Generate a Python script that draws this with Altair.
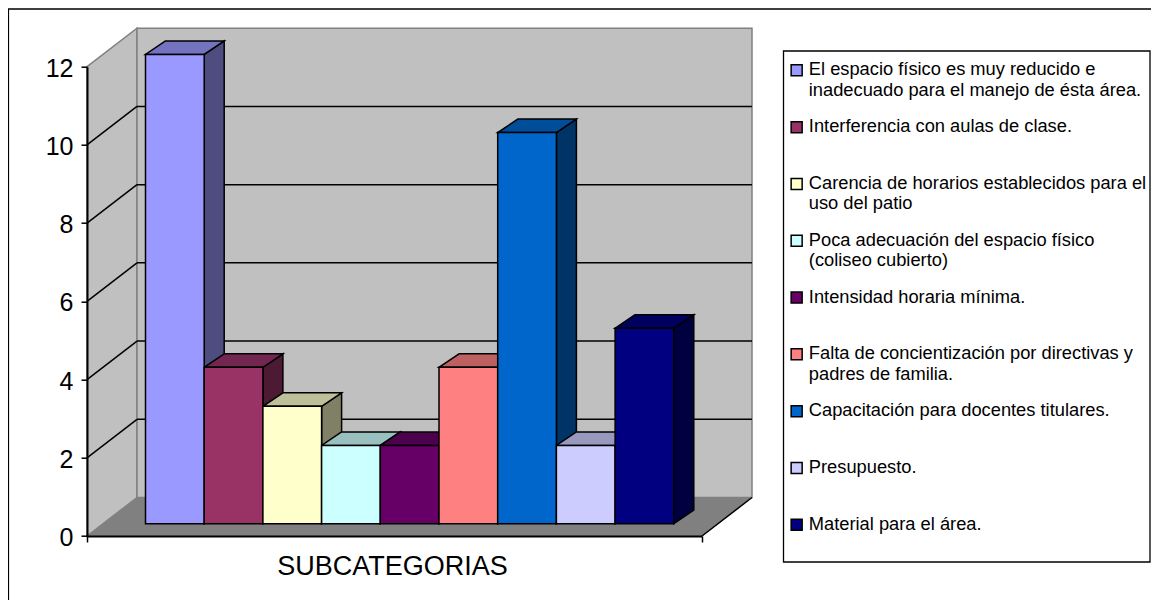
import altair as alt
import pandas as pd

cats = [
    "El espacio físico es muy reducido e|inadecuado para el manejo de ésta área.",
    "Interferencia con aulas de clase.",
    "Carencia de horarios establecidos para el|uso del patio",
    "Poca adecuación del espacio físico|(coliseo cubierto)",
    "Intensidad horaria mínima.",
    "Falta de concientización por directivas y|padres de familia.",
    "Capacitación para docentes titulares.",
    "Presupuesto.",
    "Material para el área.",
]
values = [12, 4, 3, 2, 2, 4, 10, 2, 5]
front_colors = ["#9999FF", "#993366", "#FFFFCC", "#CCFFFF", "#660066", "#FF8080", "#0066CC", "#CCCCFF", "#000080"]
side_colors = ["#4D4D80", "#4D1A33", "#808066", "#668080", "#330033", "#804040", "#003366", "#666680", "#000040"]
top_colors = ["#7373BF", "#732650", "#BFBF99", "#99BFBF", "#4D004D", "#BF6060", "#004D99", "#9999BF", "#000060"]
ticks = [0, 2, 4, 6, 8, 10, 12]

# page geometry of the plot area
PX_LEFT, PX_TOP, PLOT_W, PLOT_H = 87.0, 66.7, 615.0, 469.3
UNIT_Y = PLOT_H / 12
BAR_W = 58.7
X_MAX = PLOT_W / BAR_W
SVG_W, SVG_H = 1143, 592


def dx(px):
    return px / BAR_W


def dy(px):
    return px / UNIT_Y


def page_x(px):
    return (px - PX_LEFT) / BAR_W


def page_y(px):
    return (PX_TOP + PLOT_H - px) / UNIT_Y


x_axis = alt.Axis(
    values=[0, X_MAX], labels=False, grid=False, tickSize=6, tickWidth=1.5, tickColor="black",
    domainColor="black", domainWidth=2, titleFont="Liberation Sans", titleFontSize=27, titleFontWeight="normal",
    titleColor="black", titlePadding=11, titleX=305, zindex=1,
)
y_axis = alt.Axis(
    values=ticks, grid=False, tickSize=6, tickWidth=1.5, tickColor="black", domainColor="black", domainWidth=2,
    labelFont="Liberation Sans", labelFontSize=25, labelColor="black", labelPadding=8, labelOffset=1.5, zindex=1,
)


def X(f):
    return alt.X(f, type="quantitative", scale=alt.Scale(domain=[0, X_MAX], nice=False, zero=False),
                 axis=x_axis, title="SUBCATEGORIAS")


def Y(f):
    return alt.Y(f, type="quantitative", scale=alt.Scale(domain=[0, 12], nice=False), axis=y_axis, title=None)


WALL_DX, WALL_DY = dx(50), dy(38.5)
BAR_DX, BAR_DY = dx(20), dy(13.5)
BAR_X0 = dx(58.5)
BAR_Y0 = dy(12.3)

# frame and legend box
frame = alt.Chart(pd.DataFrame([{"x": page_x(8.3), "x2": page_x(1175), "y": page_y(9), "y2": page_y(620)}])).mark_rect(
    fill="white", stroke="black", strokeWidth=1.6
).encode(X("x"), x2="x2", y=Y("y"), y2="y2")

legend_box = alt.Chart(pd.DataFrame([{"x": page_x(783.5), "x2": page_x(1150), "y": page_y(51), "y2": page_y(562)}])).mark_rect(
    fill="white", stroke="black", strokeWidth=1.3
).encode(X("x"), x2="x2", y=Y("y"), y2="y2")

# walls and floor
left_wall = alt.Chart(pd.DataFrame([
    {"x": 0, "lo": 0, "hi": 12},
    {"x": WALL_DX, "lo": WALL_DY, "hi": 12 + WALL_DY},
])).mark_area(fill="#C0C0C0", stroke="#808080", strokeWidth=1.5).encode(X("x"), y=Y("lo"), y2="hi")

back_wall = alt.Chart(pd.DataFrame([{"x": WALL_DX, "x2": WALL_DX + X_MAX, "y": WALL_DY, "y2": 12 + WALL_DY}])).mark_rect(
    fill="#C0C0C0", stroke="#808080", strokeWidth=1.5
).encode(X("x"), x2="x2", y=Y("y"), y2="y2")

floor = alt.Chart(pd.DataFrame([
    {"y": 0, "x": 0, "x2": X_MAX},
    {"y": WALL_DY, "x": WALL_DX, "x2": WALL_DX + X_MAX},
])).mark_area(orient="horizontal", fill="#808080", stroke="#808080", strokeWidth=1).encode(
    y=Y("y"), x=X("x"), x2="x2"
)

floor_edge = alt.Chart(pd.DataFrame([
    {"x": X_MAX, "y": 0},
    {"x": X_MAX + WALL_DX, "y": WALL_DY},
])).mark_line(color="black", strokeWidth=1.5).encode(X("x"), Y("y"))

grid_vals = [t for t in ticks if 0 < t < 12]
grid_back = alt.Chart(pd.DataFrame([{"x": WALL_DX, "x2": WALL_DX + X_MAX, "y": t + WALL_DY} for t in grid_vals])).mark_rule(
    color="black", strokeWidth=1.5
).encode(X("x"), x2="x2", y=Y("y"))

grid_side = alt.Chart(pd.DataFrame(
    [{"t": t, "x": 0, "y": t} for t in grid_vals] + [{"t": t, "x": WALL_DX, "y": t + WALL_DY} for t in grid_vals]
)).mark_line(color="black", strokeWidth=1.5).encode(X("x"), Y("y"), detail="t:N")

# bars
fronts, sides, tops = [], [], []
for i, (c, v) in enumerate(zip(cats, values)):
    x0, x1 = BAR_X0 + i, BAR_X0 + i + 1
    fronts.append({"cat": c, "x": x0, "x2": x1, "y": BAR_Y0, "y2": BAR_Y0 + v})
    sides.append({"cat": c, "fillc": side_colors[i], "x": x1, "lo": BAR_Y0, "hi": BAR_Y0 + v})
    sides.append({"cat": c, "fillc": side_colors[i], "x": x1 + BAR_DX, "lo": BAR_Y0 + BAR_DY, "hi": BAR_Y0 + v + BAR_DY})
    tops.append({"cat": c, "fillc": top_colors[i], "y": BAR_Y0 + v, "x": x0, "x2": x1})
    tops.append({"cat": c, "fillc": top_colors[i], "y": BAR_Y0 + v + BAR_DY, "x": x0 + BAR_DX, "x2": x1 + BAR_DX})

side_layer = alt.Chart(pd.DataFrame(sides)).mark_area(stroke="black", strokeWidth=1.5).encode(
    X("x"), y=Y("lo"), y2="hi", fill=alt.Fill("fillc:N", scale=None), detail="cat:N"
)
top_layer = alt.Chart(pd.DataFrame(tops)).mark_area(orient="horizontal", stroke="black", strokeWidth=1.5).encode(
    y=Y("y"), x=X("x"), x2="x2", fill=alt.Fill("fillc:N", scale=None), detail="cat:N"
)
front_layer = alt.Chart(pd.DataFrame(fronts)).mark_rect(stroke="black", strokeWidth=1.5).encode(
    X("x"), x2="x2", y=Y("y"), y2="y2",
    color=alt.Color(
        "cat:N",
        sort=cats,
        scale=alt.Scale(domain=cats, range=front_colors),
        legend=alt.Legend(
            title=None,
            orient="none",
            legendX=700.5,
            legendY=-5.5,
            padding=0,
            direction="vertical",
            columns=1,
            gridAlign="all",
            rowPadding=17.8,
            symbolType="square",
            symbolSize=121,
            symbolStrokeColor="black",
            symbolStrokeWidth=1.5,
            symbolOpacity=1,
            labelFont="Liberation Sans",
            labelFontSize=18.3,
            labelColor="black",
            labelLimit=400,
            labelOffset=3,
            labelExpr="split(datum.label, '|')",
        ),
    ),
)

chart = alt.layer(
    frame, legend_box, floor, left_wall, back_wall, floor_edge, grid_back, grid_side,
    side_layer, top_layer, front_layer,
).properties(
    width=PLOT_W,
    height=PLOT_H,
    padding={"left": PX_LEFT - 8, "top": PX_TOP - 8, "right": SVG_W - (PX_LEFT - 8) - PLOT_W, "bottom": SVG_H - (PX_TOP - 8) - PLOT_H},
    autosize=alt.AutoSizeParams(type="none"),
).configure_view(stroke=None)

chart.save("out.html", embed_options={"renderer": "svg", "actions": False})
